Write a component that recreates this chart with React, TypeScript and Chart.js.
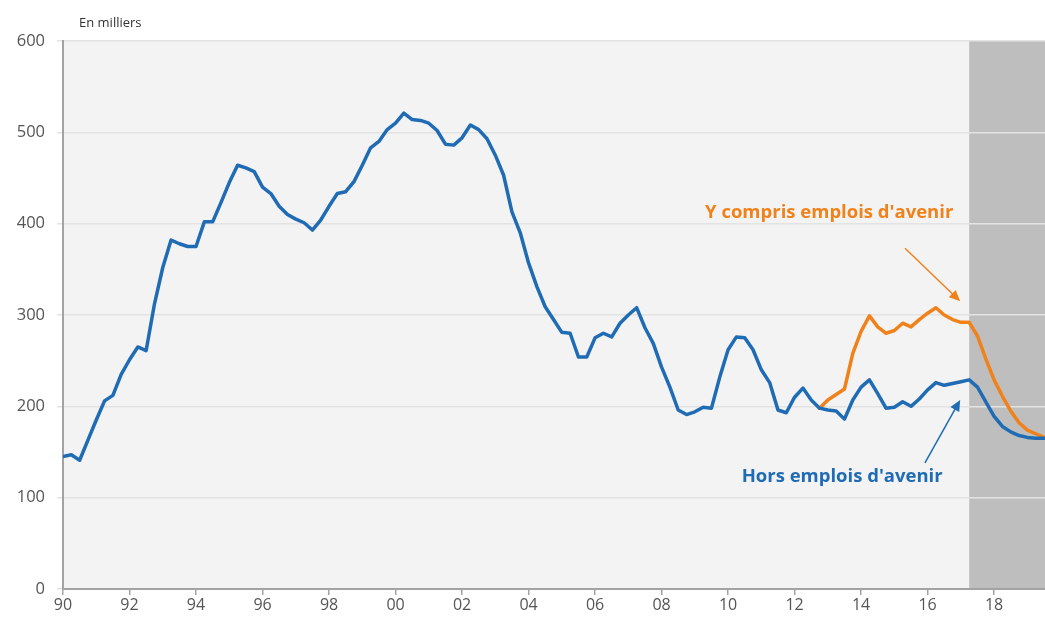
import React, { useEffect, useRef } from 'react';
import { Chart, registerables } from 'chart.js';

Chart.register(...registerables);

// ---------- data ----------
const START_YEAR = 1990; // first quarter of the blue series
const QUARTER = 0.25;

// Hors emplois d'avenir (quarterly, 1990 Q1 -> 2019 Q3)
const blueValues = [
  145, 147, 141, 163, // 1990
  185, 206, 212, 235, // 1991
  251, 265, 261, 312, // 1992
  352, 382, 378, 375, // 1993
  375, 402, 402, 423, // 1994
  445, 464, 461, 457, // 1995
  440, 433, 419, 410, // 1996
  405, 401, 393, 404, // 1997
  419, 433, 435, 446, // 1998
  464, 483, 490, 503, // 1999
  510, 521, 514, 513, // 2000
  510, 502, 487, 486, // 2001
  494, 508, 503, 493, // 2002
  475, 453, 413, 390, // 2003
  357, 331, 309, 295, // 2004
  281, 280, 254, 254, // 2005
  275, 280, 276, 291, // 2006
  300, 308, 286, 269, // 2007
  243, 221, 196, 191, // 2008
  194, 199, 198, 232, // 2009
  262, 276, 275, 262, // 2010
  240, 226, 196, 193, // 2011
  210, 220, 207, 198, // 2012
  196, 195, 186, 207, // 2013
  221, 229, 214, 198, // 2014
  199, 205, 200, 208, // 2015
  218, 226, 223, 225, // 2016
  227, 229, 221, 205, // 2017
  189, 178, 172, 168, // 2018
  166, 165, 165,      // 2019
];

// Y compris emplois d'avenir (quarterly, 2012 Q4 -> 2019 Q3)
const ORANGE_START = 2012.75;
const orangeValues = [
  198,                // 2012 Q4
  207, 213, 219, 258, // 2013
  282, 299, 287, 280, // 2014
  283, 291, 287, 295, // 2015
  302, 308, 300, 295, // 2016
  292, 292, 277, 252, // 2017
  229, 211, 195, 182, // 2018
  174, 170, 166,      // 2019
];

const xTickYears = [1990, 1992, 1994, 1996, 1998, 2000, 2002, 2004, 2006, 2008, 2010, 2012, 2014, 2016, 2018];
const yTickValues = [0, 100, 200, 300, 400, 500, 600];
const X_MIN = 1990;
const X_MAX = 2019.53;
const FORECAST_START = 2017.25;

const UNIT_LABEL = 'En milliers';
const ORANGE_LABEL = "Y compris emplois d'avenir";
const BLUE_LABEL = "Hors emplois d'avenir";

// ---------- styles ----------
const BLUE = '#1f6bb4';
const ORANGE = '#f0821c';
const PLOT_BG = '#f3f3f3';
const FORECAST_BG = '#bebebe';
const GRID = '#e3e3e3';
const AXIS = '#a3a3a3';
const FONT = '"Open Sans", "DejaVu Sans", sans-serif';

const blueData = blueValues.map((v, i) => ({ x: START_YEAR + i * QUARTER, y: v }));
const orangeData = orangeValues.map((v, i) => ({ x: ORANGE_START + i * QUARTER, y: v }));

function drawArrow(ctx: CanvasRenderingContext2D, x1: number, y1: number, x2: number, y2: number, color: string) {
  const ang = Math.atan2(y2 - y1, x2 - x1);
  const head = 11;
  const half = 5;
  ctx.save();
  ctx.strokeStyle = color;
  ctx.fillStyle = color;
  ctx.lineWidth = 1.5;
  ctx.beginPath();
  ctx.moveTo(x1, y1);
  ctx.lineTo(x2 - Math.cos(ang) * head * 0.8, y2 - Math.sin(ang) * head * 0.8);
  ctx.stroke();
  ctx.beginPath();
  ctx.moveTo(x2, y2);
  ctx.lineTo(
    x2 - Math.cos(ang) * head + Math.cos(ang + Math.PI / 2) * half,
    y2 - Math.sin(ang) * head + Math.sin(ang + Math.PI / 2) * half
  );
  ctx.lineTo(
    x2 - Math.cos(ang) * head - Math.cos(ang + Math.PI / 2) * half,
    y2 - Math.sin(ang) * head - Math.sin(ang + Math.PI / 2) * half
  );
  ctx.closePath();
  ctx.fill();
  ctx.restore();
}

const backgroundPlugin = {
  id: 'plotBackground',
  beforeDraw(chart: any) {
    const { ctx, chartArea: a, scales } = chart;
    const x = scales.x;
    ctx.save();
    ctx.fillStyle = PLOT_BG;
    ctx.fillRect(a.left, a.top, a.right - a.left, a.bottom - a.top);
    const gx = x.getPixelForValue(FORECAST_START);
    ctx.fillStyle = FORECAST_BG;
    ctx.fillRect(gx, a.top, a.right - gx, a.bottom - a.top);
    ctx.restore();
  },
};

const annotationPlugin = {
  id: 'annotations',
  afterDatasetsDraw(chart: any) {
    const { ctx, scales } = chart;
    const x = scales.x;
    const y = scales.y;
    ctx.save();
    ctx.font = `bold 18.5px ${FONT}`;
    ctx.textAlign = 'center';
    ctx.textBaseline = 'middle';

    ctx.fillStyle = ORANGE;
    ctx.fillText(ORANGE_LABEL, x.getPixelForValue(2013.04), y.getPixelForValue(412));
    drawArrow(ctx, x.getPixelForValue(2015.32), y.getPixelForValue(373), x.getPixelForValue(2016.98), y.getPixelForValue(315), ORANGE);

    ctx.fillStyle = BLUE;
    ctx.fillText(BLUE_LABEL, x.getPixelForValue(2013.43), y.getPixelForValue(123));
    drawArrow(ctx, x.getPixelForValue(2015.92), y.getPixelForValue(138), x.getPixelForValue(2016.98), y.getPixelForValue(207), BLUE);

    ctx.font = `13px ${FONT}`;
    ctx.fillStyle = '#333333';
    ctx.textAlign = 'left';
    ctx.fillText(UNIT_LABEL, 79, 23);
    ctx.restore();
  },
};

export default function App() {
  const canvasRef = useRef<HTMLCanvasElement | null>(null);

  useEffect(() => {
    if (!canvasRef.current) return;
    const chart = new Chart(canvasRef.current, {
      type: 'line',
      data: {
        datasets: [
          {
            label: BLUE_LABEL,
            data: blueData,
            borderColor: BLUE,
            borderWidth: 3.5,
            pointRadius: 0,
            tension: 0,
            borderJoinStyle: 'round',
            borderCapStyle: 'round',
            fill: false,
          },
          {
            label: ORANGE_LABEL,
            data: orangeData,
            borderColor: ORANGE,
            borderWidth: 3.5,
            pointRadius: 0,
            tension: 0,
            borderJoinStyle: 'round',
            borderCapStyle: 'round',
            fill: false,
          },
        ],
      },
      options: {
        animation: false,
        responsive: false,
        devicePixelRatio: 1,
        layout: { padding: { top: 41, right: 0, left: 0, bottom: 0 } },
        plugins: {
          legend: { display: false },
          tooltip: { enabled: false },
          title: { display: false },
        },
        scales: {
          x: {
            type: 'linear',
            min: X_MIN,
            max: X_MAX,
            afterBuildTicks: (s: any) => {
              s.ticks = xTickYears.map((v) => ({ value: v }));
            },
            afterFit: (s: any) => {
              s.height = 33;
            },
            grid: {
              display: true,
              drawOnChartArea: false,
              drawTicks: true,
              tickLength: 6,
              color: AXIS,
              lineWidth: 1.5,
            },
            border: { display: true, color: AXIS, width: 2 },
            ticks: {
              autoSkip: false,
              maxRotation: 0,
              padding: 1,
              color: '#555555',
              font: { family: FONT, size: 16 },
              callback: (v: any) => String(Math.round(Number(v)) % 100).padStart(2, '0'),
            },
          },
          y: {
            type: 'linear',
            min: 0,
            max: 600,
            afterBuildTicks: (s: any) => {
              s.ticks = yTickValues.map((v) => ({ value: v }));
            },
            afterFit: (s: any) => {
              s.width = 63;
            },
            grid: {
              display: true,
              drawOnChartArea: true,
              drawTicks: true,
              tickLength: 6,
              color: GRID,
              lineWidth: 1.5,
            },
            border: { display: true, color: AXIS, width: 2 },
            ticks: {
              padding: 12,
              color: '#555555',
              font: { family: FONT, size: 16.5 },
            },
          },
        },
      },
      plugins: [backgroundPlugin, annotationPlugin],
    });
    return () => chart.destroy();
  }, []);

  return (
    <div style={{ position: 'fixed', left: 0, top: 0, width: 1045, height: 622, background: '#ffffff' }}>
      <canvas ref={canvasRef} width={1045} height={622} style={{ width: 1045, height: 622, display: 'block' }} />
    </div>
  );
}
